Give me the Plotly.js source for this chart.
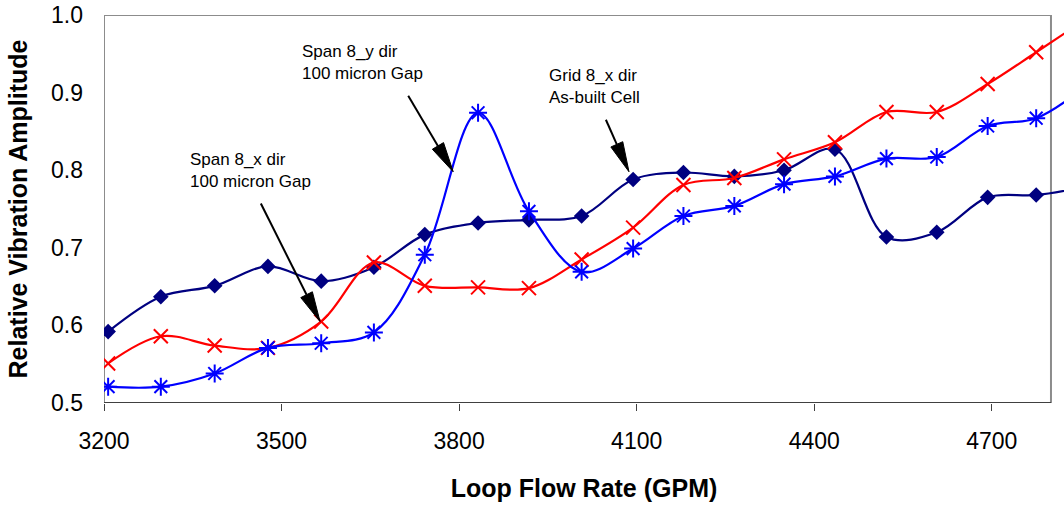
<!DOCTYPE html>
<html>
<head>
<meta charset="utf-8">
<script src="https://cdn.plot.ly/plotly-3.0.1.min.js"></script>
<style>html,body{margin:0;padding:0;background:#fff;}#chart{width:1064px;height:517px;}</style>
</head>
<body>
<div id="chart"></div>
<script>
// ---- Data ----
const flowRate = [3207, 3296, 3387, 3477, 3567, 3656, 3742, 3832, 3918, 4007, 4094, 4179, 4265, 4349, 4435, 4522, 4607, 4693, 4775, 4860];
const gridXAsBuilt = [0.592, 0.637, 0.651, 0.676, 0.657, 0.675, 0.717, 0.732, 0.736, 0.741, 0.788, 0.797, 0.792, 0.800, 0.827, 0.714, 0.720, 0.765, 0.768, 0.779];
const spanXGap = [0.551, 0.586, 0.574, 0.571, 0.605, 0.681, 0.651, 0.649, 0.648, 0.685, 0.726, 0.781, 0.790, 0.814, 0.836, 0.875, 0.875, 0.911, 0.952, 0.995];
const spanYGap = [0.521, 0.521, 0.538, 0.571, 0.577, 0.591, 0.691, 0.874, 0.747, 0.669, 0.699, 0.741, 0.754, 0.782, 0.792, 0.815, 0.817, 0.857, 0.867, 0.909];
const xTicks = [3200, 3500, 3800, 4100, 4400, 4700];
const yTicks = [0.5, 0.6, 0.7, 0.8, 0.9, 1.0];
const labels = ["Span 8_x dir<br>100 micron Gap", "Span 8_y dir<br>100 micron Gap", "Grid 8_x dir<br>As-built Cell"];

const FONT = "Liberation Sans, Arial, sans-serif";
const X_RANGE = [3200, 4822];
const Y_RANGE = [0.5, 1.0];
const PLOT_W = 960, PLOT_H = 388;
const sx = PLOT_W / (X_RANGE[1] - X_RANGE[0]);
const sy = PLOT_H / (Y_RANGE[1] - Y_RANGE[0]);

const traces = [
  {
    name: "Grid 8_x dir As-built Cell", x: flowRate, y: gridXAsBuilt, mode: "lines+markers",
    line: {color: "#000080", width: 2.2, shape: "spline", smoothing: 1},
    marker: {symbol: "diamond", size: 12, color: "#000080"}
  },
  {
    name: "Span 8_x dir 100 micron Gap", x: flowRate, y: spanXGap, mode: "lines+markers",
    line: {color: "#FF0000", width: 2.2, shape: "spline", smoothing: 1},
    marker: {symbol: "x-thin-open", size: 14, color: "#FF0000", line: {color: "#FF0000", width: 2}}
  },
  {
    name: "Span 8_y dir 100 micron Gap", x: flowRate, y: spanYGap, mode: "lines+markers",
    line: {color: "#0000FF", width: 2.2, shape: "spline", smoothing: 1},
    marker: {symbol: "asterisk-open", size: 15, color: "#0000FF", line: {color: "#0000FF", width: 2}}
  }
];

// Arrow helper: line + slender filled head, defined in data coordinates
function arrow(x0, y0, x1, y1) {
  const dxp = (x1 - x0) * sx, dyp = -(y1 - y0) * sy;
  const L = Math.hypot(dxp, dyp);
  const ux = dxp / L, uy = dyp / L;
  const hl = 30, hw = 6.5;
  const px = -uy, py = ux;
  const toX = p => p / sx, toY = p => -p / sy;
  const bxp = -ux * hl, byp = -uy * hl;
  const bx = x1 + toX(bxp), by = y1 + toY(byp);
  const c1x = x1 + toX(bxp + px * hw), c1y = y1 + toY(byp + py * hw);
  const c2x = x1 + toX(bxp - px * hw), c2y = y1 + toY(byp - py * hw);
  return [
    {type: "line", xref: "x", yref: "y", x0: x0, y0: y0, x1: bx, y1: by, line: {color: "#000", width: 2}},
    {type: "path", xref: "x", yref: "y", path: `M${x1},${y1} L${c1x},${c1y} L${c2x},${c2y} Z`,
     fillcolor: "#000", line: {color: "#000", width: 1}}
  ];
}

const shapes = [
  {type: "rect", xref: "x", yref: "y", x0: 3200, x1: 4800, y0: 0.5, y1: 1.0, layer: "below",
   line: {color: "#8c8c8c", width: 2}, fillcolor: "rgba(0,0,0,0)"},
  {type: "line", xref: "x", yref: "y", x0: 3200, x1: 4800, y0: 0.5, y1: 0.5, layer: "below",
   line: {color: "#404040", width: 2}},
  ...arrow(3465, 0.757, 3565, 0.605),
  ...arrow(3714, 0.896, 3790, 0.798),
  ...arrow(4048, 0.865, 4087, 0.798)
];

const annotations = [
  {x: 3342, y: 0.7996, text: labels[0]},
  {x: 3531, y: 0.9383, text: labels[1]},
  {x: 3948, y: 0.9079, text: labels[2]}
].map(a => Object.assign(a, {
  xref: "x", yref: "y", showarrow: false, xanchor: "left", yanchor: "middle", align: "left",
  font: {family: FONT, size: 17, color: "#000"}
}));

const layout = {
  width: 1064, height: 517,
  margin: {l: 104, r: 0, t: 15, b: 114, pad: 0},
  paper_bgcolor: "#fff", plot_bgcolor: "#fff",
  showlegend: false,
  font: {family: FONT, color: "#000"},
  xaxis: {
    range: X_RANGE, tickvals: xTicks, ticktext: xTicks.map(String),
    ticks: "outside", ticklen: 7, tickwidth: 1, tickcolor: "#404040",
    showline: false, showgrid: false, zeroline: false,
    tickfont: {family: FONT, size: 23, color: "#000"}, ticklabelstandoff: 10,
    title: {text: "<b>Loop Flow Rate (GPM)</b>", font: {family: FONT, size: 25, color: "#000"}, standoff: 26}
  },
  yaxis: {
    range: Y_RANGE, tickvals: yTicks, ticktext: yTicks.map(v => v.toFixed(1)),
    ticks: "", showline: false, showgrid: false, zeroline: false,
    tickfont: {family: FONT, size: 23, color: "#000"}, ticklabelstandoff: 20,
    title: {text: "<b>Relative Vibration Amplitude</b>", font: {family: FONT, size: 25, color: "#000"}, standoff: 16}
  },
  shapes: shapes,
  annotations: annotations
};

Plotly.newPlot("chart", traces, layout, {displayModeBar: false, staticPlot: true});
</script>
</body>
</html>
